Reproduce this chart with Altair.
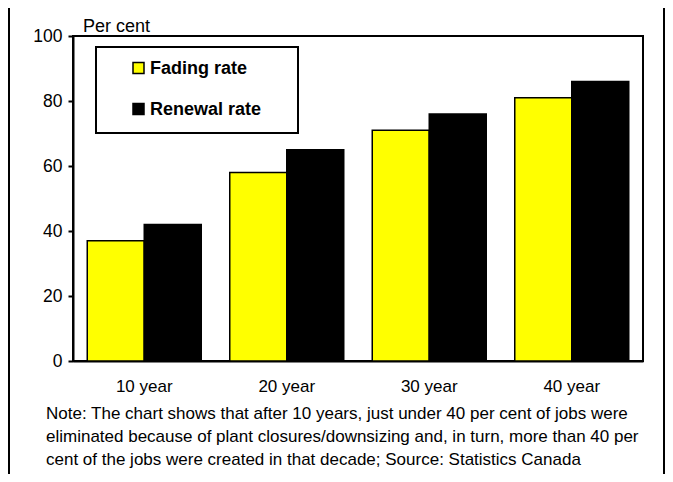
import altair as alt
import pandas as pd

# ---- data ----
categories = ["10 year", "20 year", "30 year", "40 year"]
series = ["Fading rate", "Renewal rate"]
fading = [37, 58, 71, 81]
renewal = [42, 65, 76, 86]
colors = ["#FFFF00", "#000000"]
tick_values = [0, 20, 40, 60, 80, 100]
y_label = "Per cent"
note_lines = [
    "Note: The chart shows that after 10 years, just under 40 per cent of jobs were",
    "eliminated because of plant closures/downsizing and, in turn, more than 40 per",
    "cent of the jobs were created in that decade; Source: Statistics Canada",
]

rows = []
for c, f, r in zip(categories, fading, renewal):
    rows.append({"cat": c, "series": series[0], "value": f})
    rows.append({"cat": c, "series": series[1], "value": r})
df = pd.DataFrame(rows)

W, H = 570, 325
FONT = "Liberation Sans"
one = pd.DataFrame({"a": [0]})

bars = alt.Chart(df).mark_bar(stroke="black", strokeWidth=1.5).encode(
    x=alt.X(
        "cat:N", sort=categories,
        scale=alt.Scale(paddingInner=0.2, paddingOuter=0.1),
        axis=alt.Axis(title=None, labelAngle=0, ticks=False, labelPadding=17,
                      labelFontSize=17, labelColor="black",
                      domainColor="black", domainWidth=2),
    ),
    xOffset=alt.XOffset("series:N", sort=series,
                        scale=alt.Scale(paddingInner=0, paddingOuter=0)),
    y=alt.Y(
        "value:Q", scale=alt.Scale(domain=[0, 100], nice=False),
        axis=alt.Axis(title=None, values=tick_values, grid=False, tickSize=5,
                      tickColor="black", tickWidth=2, domainColor="black",
                      domainWidth=2, labelPadding=6, labelFontSize=17.5,
                      labelColor="black"),
    ),
    color=alt.Color("series:N", sort=series,
                    scale=alt.Scale(domain=series, range=colors), legend=None),
)

ylab = alt.Chart(one).mark_text(
    text=y_label, align="left", baseline="alphabetic", fontSize=18, color="black"
).encode(x=alt.value(10), y=alt.value(-4))

legend_box = alt.Chart(one).mark_rect(
    fill="white", stroke="black", strokeWidth=2
).encode(x=alt.value(23), x2=alt.value(225), y=alt.value(11), y2=alt.value(97))

legend_layers = []
for i, name in enumerate(series):
    yy = 32 + 41 * i
    legend_layers.append(
        alt.Chart(one).mark_square(size=121, stroke="black", strokeWidth=1.5, opacity=1)
        .encode(x=alt.value(65.5), y=alt.value(yy), color=alt.value(colors[i]))
    )
    legend_layers.append(
        alt.Chart(one).mark_text(text=name, align="left", baseline="middle",
                                 fontSize=18, fontWeight="bold", color="black")
        .encode(x=alt.value(77), y=alt.value(yy + 1))
    )

note = alt.Chart(one).mark_text(
    align="left", baseline="alphabetic", fontSize=17, lineHeight=23, color="black"
).encode(x=alt.value(-27), y=alt.value(383), text=alt.value(note_lines))

border_l = alt.Chart(one).mark_rule(color="black", strokeWidth=2).encode(
    x=alt.value(-64), y=alt.value(-28), y2=alt.value(438))
border_r = alt.Chart(one).mark_rule(color="black", strokeWidth=2).encode(
    x=alt.value(591), y=alt.value(-28), y2=alt.value(438))

chart = alt.layer(
    bars, ylab, legend_box, *legend_layers, note, border_l, border_r
).properties(
    width=W, height=H,
    autosize=alt.AutoSizeParams(type="none"),
    padding={"left": 65, "top": 28, "right": 22, "bottom": 113},
).configure(font=FONT).configure_view(stroke="black", strokeWidth=2)

chart.save("out.html", embed_options={"renderer": "svg", "actions": False})
